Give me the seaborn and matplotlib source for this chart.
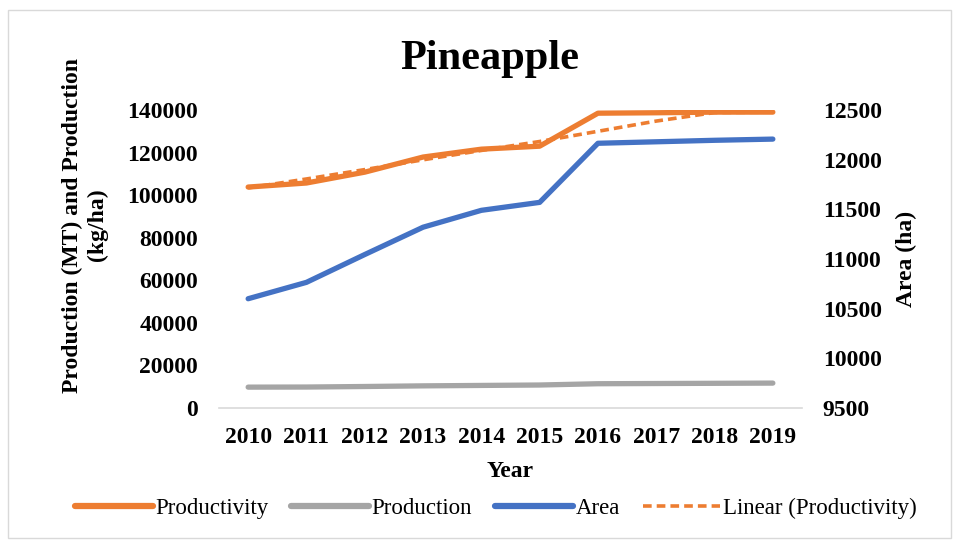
import matplotlib
matplotlib.use("Agg")
import matplotlib.pyplot as plt
import seaborn as sns
import pandas as pd
from matplotlib.patches import Rectangle

# Données
years = [2010, 2011, 2012, 2013, 2014, 2015, 2016, 2017, 2018, 2019]
productivity = [103800, 105700, 110800, 117900, 121600, 123000, 138500, 138700, 139000, 139000]
production = [9800, 9850, 10100, 10400, 10600, 10800, 11400, 11500, 11600, 11700]
area = [10600, 10765, 11045, 11320, 11490, 11570, 12165, 12180, 12195, 12207]
trend = [103400, 107600, 112000, 116600, 121000, 125200, 130000, 134800, 138800, 139000]

left_ticks = [0, 20000, 40000, 60000, 80000, 100000, 120000, 140000]
right_ticks = [9500, 10000, 10500, 11000, 11500, 12000, 12500]

ORANGE = "#ED7D31"
GREY = "#A5A5A5"
BLUE = "#4472C4"

df = pd.DataFrame({"Year": years, "Productivity": productivity, "Production": production,
                   "Area": area, "Trend": trend})

sns.set_style("white")
plt.rcParams["font.family"] = ["Liberation Serif", "DejaVu Serif"]
plt.rcParams["text.color"] = "black"
plt.rcParams["axes.labelcolor"] = "black"
plt.rcParams["xtick.color"] = "black"
plt.rcParams["ytick.color"] = "black"

FS = 17

fig = plt.figure(figsize=(9.59, 5.4), dpi=100)
ax = fig.add_axes([219 / 959, 1 - 408 / 540, (802 - 219) / 959, (408 - 110) / 540])
ax2 = ax.twinx()

sns.lineplot(data=df, x="Year", y="Productivity", ax=ax, color=ORANGE, linewidth=3.8,
             solid_capstyle="round", label="Productivity", legend=False, zorder=3)
sns.lineplot(data=df, x="Year", y="Production", ax=ax, color=GREY, linewidth=3.8,
             solid_capstyle="round", label="Production", legend=False, zorder=3)
sns.lineplot(data=df, x="Year", y="Trend", ax=ax, color=ORANGE, linewidth=2.6,
             linestyle=(0, (2.4, 1.4)), label="Linear (Productivity)", legend=False, zorder=4)
sns.lineplot(data=df, x="Year", y="Area", ax=ax2, color=BLUE, linewidth=3.8,
             solid_capstyle="round", label="Area", legend=False, zorder=3)

ax.set_xlim(2009.5, 2019.5)
ax.set_ylim(0, 140000)
ax2.set_ylim(9500, 12500)

for a in (ax, ax2):
    for s in a.spines.values():
        s.set_visible(False)
ax.spines["bottom"].set_visible(True)
ax.spines["bottom"].set_color("#d9d9d9")
ax.spines["bottom"].set_linewidth(1.2)

ax.set_yticks(left_ticks)
ax.set_yticklabels([str(v) for v in left_ticks], fontsize=FS, fontweight="bold")
ax.tick_params(axis="y", length=0, pad=15)
ax2.set_yticks(right_ticks)
ax2.set_yticklabels([str(v) for v in right_ticks], fontsize=FS, fontweight="bold")
ax2.tick_params(axis="y", length=0, pad=15)

# graduations entre les catégories, étiquettes au centre
ax.set_xticks([y - 0.5 for y in years] + [years[-1] + 0.5])
ax.set_xticklabels([])
ax.tick_params(axis="x", which="major", length=5, width=1.2, color="#d9d9d9", direction="out")
ax.set_xticks(years, minor=True)
ax.set_xticklabels([str(y) for y in years], minor=True, fontsize=FS, fontweight="bold")
ax.tick_params(axis="x", which="minor", length=0, pad=14)

ax.set_xlabel("Year", fontsize=FS, fontweight="bold", labelpad=9)
ax.set_ylabel("Production (MT) and Production\n(kg/ha)", fontsize=FS, fontweight="bold",
              linespacing=1.25)
ax.yaxis.set_label_coords(-0.19, 0.614)
ax2.set_ylabel("Area (ha)", fontsize=FS, fontweight="bold", labelpad=10)

fig.suptitle("Pineapple", fontsize=30.5, fontweight="bold", x=0.511, y=0.925)

h1, l1 = ax.get_legend_handles_labels()
h2, l2 = ax2.get_legend_handles_labels()
handles = dict(zip(l1 + l2, h1 + h2))
order = ["Productivity", "Production", "Area", "Linear (Productivity)"]
leg = fig.legend([handles[k] for k in order], order, loc="center", bbox_to_anchor=(0.517, 0.058),
                 ncol=4, frameon=False, fontsize=16.5, handlelength=3.4, handletextpad=0.1,
                 columnspacing=1.0)
for line in leg.get_lines():
    if line.get_linestyle() == "-":
        line.set_linewidth(4.5)

fig.patches.append(Rectangle((8 / 959, 2 / 540), 943 / 959, 528 / 540, transform=fig.transFigure,
                             fill=False, edgecolor="#d9d9d9", linewidth=1))

fig.savefig("out.png", dpi=100)
